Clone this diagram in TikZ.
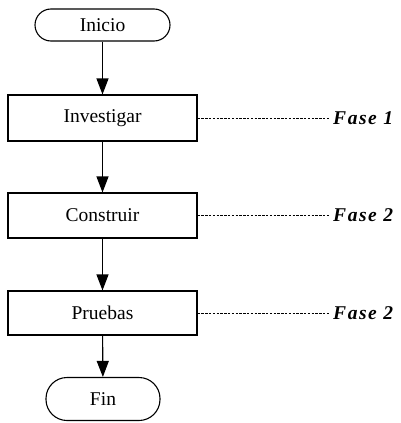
\documentclass[tikz,border=0pt]{standalone}
\usepackage{fontspec}
\setmainfont{Liberation Serif}
\newfontfamily\phasefont[LetterSpace=8]{Liberation Serif}
\usetikzlibrary{arrows.meta}
\begin{document}
\begin{tikzpicture}[x=1pt,y=-1pt,
  every node/.style={font=\fontsize{19.5}{23}\selectfont},
  terminal/.style={draw, line width=1.1pt, rounded corners=16pt, minimum height=32pt, inner sep=0pt},
  stepbox/.style={draw, line width=1.1pt, minimum width=189pt, inner sep=0pt},
  flow/.style={line width=1.1pt, -{Triangle[length=16pt,width=12pt]}},
  phase/.style={anchor=west, inner sep=3pt, font=\fontsize{19.5}{23}\selectfont\phasefont\bfseries\itshape},
  link/.style={line width=1pt, dash pattern=on 2.4pt off 1.4pt}]
\useasboundingbox (0,0) rectangle (400,423);

\node[terminal, minimum width=135pt] (inicio) at (102.5,25) {Inicio};
\node[stepbox, minimum height=46pt] (inv) at (102.5,118) {Investigar};
\node[stepbox, minimum height=45pt] (con) at (102.5,215.5) {Construir};
\node[stepbox, minimum height=44pt] (pru) at (102.5,313) {Pruebas};
\node[terminal, minimum width=114pt, minimum height=43pt, rounded corners=21pt] (fin) at (103,399) {Fin};

\draw[flow] (inicio) -- (inv);
\draw[flow] (inv) -- (con);
\draw[flow] (con) -- (pru);
\draw[flow] (pru) -- (fin);

\node[phase] (f1) at (330,118) {Fase 1};
\node[phase] (f2) at (330,215.5) {Fase 2};
\node[phase] (f3) at (330,313) {Fase 2};

\draw[link] (inv.east) -- (f1.west);
\draw[link] (con.east) -- (f2.west);
\draw[link] (pru.east) -- (f3.west);
\end{tikzpicture}
\end{document}
